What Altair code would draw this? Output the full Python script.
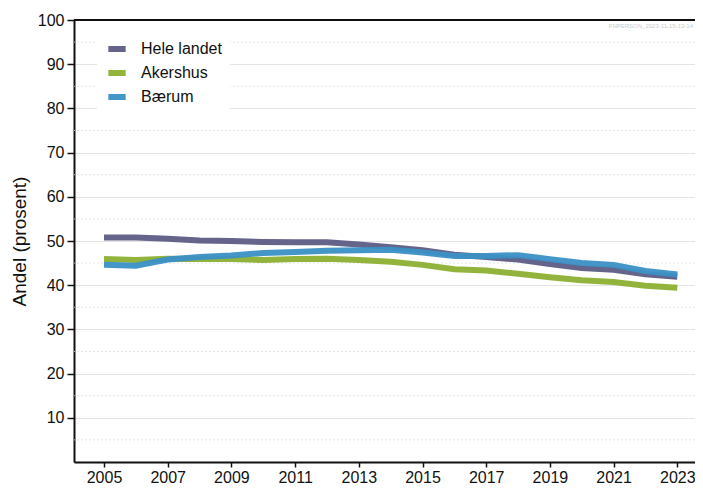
import altair as alt
import pandas as pd

years = list(range(2005, 2024))
hele_landet = [50.8, 50.8, 50.5, 50.1, 50.0, 49.8, 49.7, 49.7, 49.2, 48.6, 47.9, 46.9, 46.4, 45.8, 44.8, 43.9, 43.5, 42.5, 41.9]
akershus = [45.9, 45.7, 46.0, 45.9, 45.9, 45.7, 45.9, 46.0, 45.7, 45.3, 44.6, 43.6, 43.3, 42.6, 41.8, 41.1, 40.7, 39.9, 39.4]
baerum = [44.6, 44.4, 45.8, 46.4, 46.7, 47.3, 47.5, 47.8, 47.9, 48.0, 47.4, 46.6, 46.6, 46.8, 45.9, 45.0, 44.6, 43.2, 42.4]
series_names = ["Hele landet", "Akershus", "Bærum"]
series_colors = ["#5d5c84", "#8db031", "#3a90c6"]
x_ticks = list(range(2005, 2024, 2))
y_ticks = list(range(10, 101, 10))
minor_ticks = list(range(5, 100, 10))
watermark = "FNPERSON_2023-11-15-13-14"

rows = []
for name, vals in zip(series_names, [hele_landet, akershus, baerum]):
    for yr, v in zip(years, vals):
        rows.append({"Aar": yr, "Andel": v, "Serie": name, "order": series_names.index(name)})
df = pd.DataFrame(rows)

W, H = 621, 442
PX_PER_YEAR = 31.85
x0 = 2005 - 30 / PX_PER_YEAR
xscale = alt.Scale(domain=[x0, x0 + W / PX_PER_YEAR], nice=False)
yscale = alt.Scale(domain=[0, 100], nice=False)

yaxis = alt.Axis(values=y_ticks, title="Andel (prosent)", grid=True,
                 gridColor="#e4e4e4", gridWidth=1,
                 labelFontSize=16, labelColor="#111", labelPadding=3,
                 tickColor="#111", tickSize=7, tickWidth=1.5,
                 domainColor="#111", domainWidth=2,
                 titleFontSize=19, titleFontWeight="normal", titleColor="#111",
                 titlePadding=8, labelFont="Liberation Sans", titleFont="Liberation Sans")

minor = alt.Chart(pd.DataFrame({"v": minor_ticks})).mark_rule(
    color="#dddddd", strokeWidth=0.8, strokeDash=[2, 2]
).encode(y=alt.Y("v:Q", scale=yscale, axis=yaxis))

lines = alt.Chart(df).mark_line(strokeWidth=6, opacity=0.95, strokeCap="butt").encode(
    x=alt.X("Aar:Q", scale=xscale,
            axis=alt.Axis(values=x_ticks, format="d", title=None, grid=False,
                          labelFontSize=16, labelColor="#111", labelPadding=2,
                          tickColor="#111", tickSize=5, tickWidth=1.5,
                          domainColor="#111", domainWidth=2, labelFont="Liberation Sans")),
    y=alt.Y("Andel:Q", scale=yscale, axis=yaxis),
    color=alt.Color("Serie:N", sort=series_names,
                    scale=alt.Scale(domain=series_names, range=series_colors),
                    legend=alt.Legend(title=None, orient="none", legendX=23, legendY=9,
                                      fillColor="white", padding=8, labelFontSize=16,
                                      labelColor="#111", labelFont="Liberation Sans",
                                      symbolType="stroke", symbolStrokeWidth=6, symbolSize=300,
                                      rowPadding=0, labelOffset=12)),
    order=alt.Order("order:Q"),
    detail="Serie:N",
)

top = alt.Chart(pd.DataFrame({"v": [100]})).mark_rule(color="#111", strokeWidth=2).encode(
    y=alt.Y("v:Q", scale=yscale)
)

wm = alt.Chart(pd.DataFrame({"t": [watermark]})).mark_text(
    align="right", baseline="top", fontSize=6, color="#cccccc", font="Liberation Sans"
).encode(text="t:N", x=alt.value(W - 2), y=alt.value(3))

chart = alt.layer(minor, lines, top, wm).properties(
    width=W, height=H,
    autosize=alt.AutoSizeParams(type="none"),
    padding={"left": 66, "top": 12, "right": 0, "bottom": 25},
).configure_view(stroke=None).configure(font="Liberation Sans")

chart.save("out.html", embed_options={"renderer": "svg", "actions": False})
